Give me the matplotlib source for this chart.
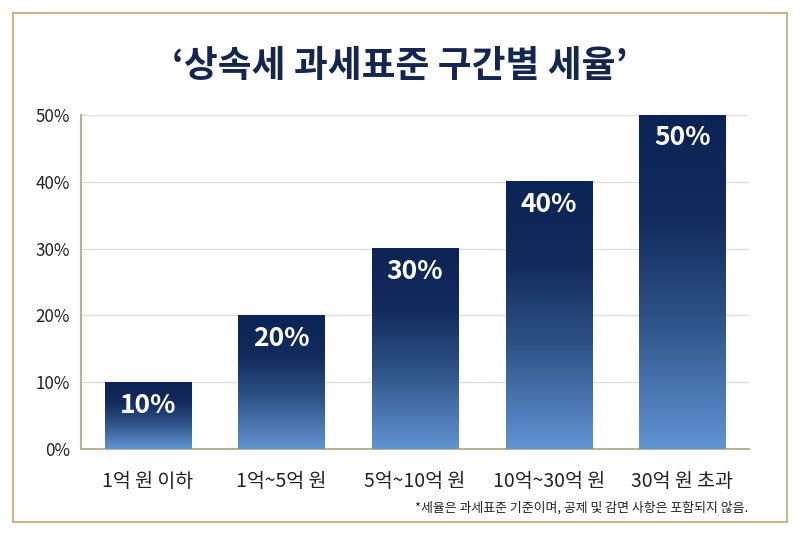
import matplotlib
matplotlib.use("Agg")
import matplotlib.pyplot as plt
import numpy as np
from matplotlib.colors import LinearSegmentedColormap
from matplotlib.patches import Rectangle

plt.rcParams['font.family'] = ['Noto Sans CJK KR', 'DejaVu Sans']

title = "‘상속세 과세표준 구간별 세율’"
categories = ["1억 원 이하", "1억~5억 원", "5억~10억 원", "10억~30억 원", "30억 원 초과"]
rates = [10, 20, 30, 40, 50]
yticks = [0, 10, 20, 30, 40, 50]
footnote = "*세율은 과세표준 기준이며, 공제 및 감면 사항은 포함되지 않음."

fig = plt.figure(figsize=(8, 5.36), dpi=100)
fig.patch.set_facecolor("white")

# outer gold border
fig.patches.append(Rectangle((13/800, 1-522/536), (787-13)/800, (522-13)/536,
                             transform=fig.transFigure, fill=False,
                             edgecolor="#c6b98b", linewidth=1.6, zorder=0))

ax = fig.add_axes([81/800, 1-449/536, (749-81)/800, (449-115)/536])
ax.set_xlim(-0.5, 4.5)
ax.set_ylim(0, 50)

cmap = LinearSegmentedColormap.from_list(
    "navy", [(0.0, "#0c2355"), (0.3, "#122a5c"), (0.6, "#2d5185"), (1.0, "#6194d3")])
grad = np.linspace(0, 1, 256).reshape(-1, 1)

width = 0.645
x = np.arange(len(categories))
bars = ax.bar(x, rates, width=width, color="none", zorder=3)
for b, v in zip(bars, rates):
    x0 = b.get_x()
    ax.imshow(grad, cmap=cmap, aspect="auto", extent=(x0, x0 + width, 0, v),
              origin="upper", zorder=3)
    ax.annotate(f"{v}%", (b.get_x() + width / 2, v), xytext=(0, -16.5),
                textcoords="offset points", ha="center", va="center",
                color="white", fontsize=19, fontweight="bold", zorder=4)

ax.set_xlim(-0.5, 4.5)
ax.set_ylim(0, 50)
ax.set_yticks(yticks)
ax.set_yticklabels([f"{t}%" for t in yticks], fontsize=12.2, color="#222222")
ax.set_xticks(x)
ax.set_xticklabels(categories, fontsize=14, color="#222222")
ax.tick_params(axis="both", length=0)
ax.tick_params(axis="y", pad=8)
ax.tick_params(axis="x", pad=16)
ax.grid(axis="y", color="#dddddd", linewidth=1, zorder=0)
ax.set_axisbelow(True)
for s in ["top", "right"]:
    ax.spines[s].set_visible(False)
for s in ["left", "bottom"]:
    ax.spines[s].set_color("#b8b296")
    ax.spines[s].set_linewidth(1.5)

fig.text(0.5, 1-66/536, title, ha="center", va="center", fontsize=26.5,
         fontweight="bold", color="#14264f")
fig.text(748/800, 1-508/536, footnote, ha="right", va="center", fontsize=9.3,
         color="#222222")

fig.savefig("out.png", dpi=100)
